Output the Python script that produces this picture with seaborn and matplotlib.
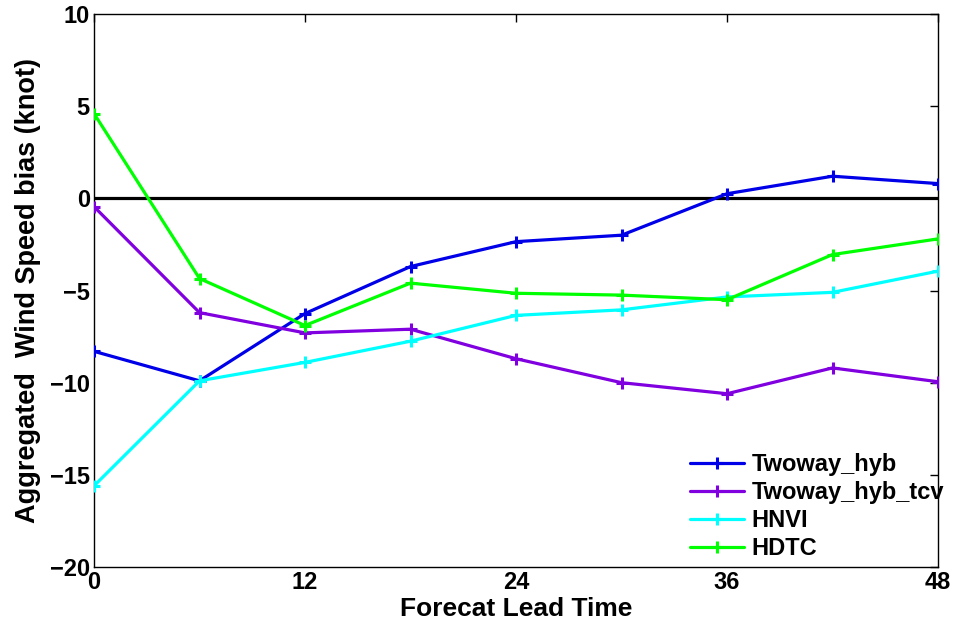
import matplotlib
matplotlib.use("Agg")
import matplotlib.pyplot as plt
import seaborn as sns
import pandas as pd

lead_times = [0, 6, 12, 18, 24, 30, 36, 42, 48]
twoway_hyb = [-8.3, -9.9, -6.25, -3.7, -2.35, -2.0, 0.25, 1.2, 0.8]
twoway_hyb_tcv = [-0.45, -6.2, -7.3, -7.1, -8.7, -10.0, -10.6, -9.2, -9.95]
hnvi = [-15.6, -9.9, -8.9, -7.75, -6.35, -6.05, -5.35, -5.1, -3.95]
hdtc = [4.6, -4.35, -6.9, -4.6, -5.15, -5.25, -5.5, -3.05, -2.2]

series_names = ["Twoway_hyb", "Twoway_hyb_tcv", "HNVI", "HDTC"]
series_values = [twoway_hyb, twoway_hyb_tcv, hnvi, hdtc]
colors = ["#0000E8", "#8000E0", "#00FFFF", "#00FF00"]

x_ticks = [0, 12, 24, 36, 48]
y_ticks = [-20, -15, -10, -5, 0, 5, 10]

sns.set_style("white")
plt.rcParams["font.family"] = ["Liberation Sans", "DejaVu Sans"]
plt.rcParams["font.weight"] = "bold"
for key in ["text.color", "axes.labelcolor", "xtick.color", "ytick.color"]:
    plt.rcParams[key] = "black"

rows = []
for name, vals in zip(series_names, series_values):
    for t, v in zip(lead_times, vals):
        rows.append({"lead": t, "bias": v, "model": name})
df = pd.DataFrame(rows)

fig = plt.figure(figsize=(9.57, 6.34), dpi=100)
ax = fig.add_axes([94 / 957, 1 - 567 / 634, (938 - 94) / 957, (567 - 14) / 634])

ax.axhline(0, color="black", lw=2.3, zorder=1)

for name, col in zip(series_names, colors):
    sns.lineplot(data=df[df["model"] == name], x="lead", y="bias", color=col,
                 marker="+", markersize=8, markeredgewidth=2.2,
                 markeredgecolor=col, markerfacecolor=col, lw=2.3,
                 label=name, ax=ax, zorder=3)

ax.set_xlim(0, 48)
ax.set_ylim(-20, 10)
ax.set_xticks(x_ticks)
ax.set_yticks(y_ticks)
ax.tick_params(direction="in", length=5.5, width=1, top=True, right=True,
               labelsize=17, pad=3, colors="black")
for lab in ax.get_xticklabels() + ax.get_yticklabels():
    lab.set_fontweight("bold")
for s in ax.spines.values():
    s.set_linewidth(1)
    s.set_color("black")

ax.set_xlabel("Forecat Lead Time", fontsize=19, fontweight="bold", labelpad=2, color="black")
ax.set_ylabel("Aggregated  Wind Speed bias (knot)", fontsize=19.5, fontweight="bold", labelpad=6, color="black")

leg = ax.legend(loc="lower left", bbox_to_anchor=((690 - 94) / 844, 0.012),
                frameon=False, fontsize=17, borderpad=0, borderaxespad=0,
                handlelength=2.3, handletextpad=0.3, labelspacing=0.22)
for t in leg.get_texts():
    t.set_fontweight("bold")
    t.set_color("black")

fig.savefig("out.png", dpi=100)
